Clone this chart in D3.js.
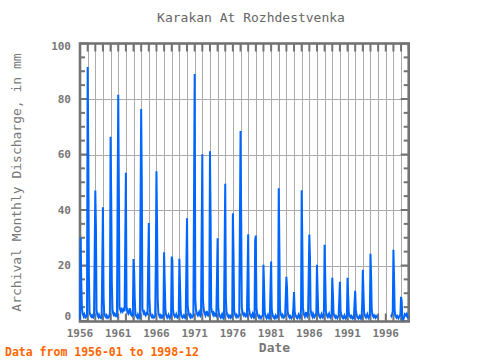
<!DOCTYPE html>
<html><head><meta charset="utf-8">
<script src="https://cdn.jsdelivr.net/npm/d3@7"></script>
<style>html,body{margin:0;padding:0;background:#fff;}svg{display:block;}</style>
</head><body>
<script>
// Monthly discharge (mm), Jan..Dec per year
const flow1950s = [
  0.5, 30, 14.5, 4.8, 3.0, 2.2, 1.6, 2.4, 1.8, 1.3, 1.6, 2.0,      // 1956
  91.5, 60.5, 16.3, 3.2, 2.4, 1.8, 1.5, 2.0, 1.4, 1.2, 1.8, 23.5,  // 1957
  47, 33.6, 4.0, 2.5, 1.8, 1.4, 2.2, 1.6, 1.2, 1.0, 1.5, 20.5,     // 1958
  41, 8.4, 3.0, 2.2, 1.6, 1.3, 2.0, 1.5, 1.1, 1.4, 1.8, 3.0        // 1959
];
const flow1960s = [
  66.4, 44, 14, 4.2, 2.8, 2.2, 2.6, 2.0, 1.8, 2.4, 2.0, 42.3,      // 1960
  81.5, 46.5, 5.0, 4.2, 3.6, 4.8, 4.0, 3.4, 3.8, 4.4, 3.5, 27.8,   // 1961
  53.4, 5.2, 4.0, 3.2, 2.6, 3.0, 4.6, 3.8, 2.4, 2.0, 1.8, 2.5,     // 1962
  22.3, 17.8, 7.9, 2.6, 2.0, 1.5, 1.2, 2.2, 1.6, 1.0, 1.3, 38.9,   // 1963
  76.4, 50.7, 4.4, 3.6, 2.8, 3.2, 2.4, 2.0, 2.6, 3.0, 2.2, 20.0,   // 1964
  35.3, 8.0, 3.2, 2.4, 1.8, 1.4, 2.0, 1.6, 1.2, 1.5, 1.8, 20.5,    // 1965
  54, 33.2, 8.0, 3.0, 2.2, 1.6, 2.0, 1.4, 1.8, 1.2, 1.5, 2.0,      // 1966
  24.8, 13.7, 4.5, 2.4, 1.8, 1.2, 1.6, 2.2, 1.5, 1.0, 1.4, 2.2,    // 1967
  23.2, 21.7, 4.2, 2.6, 2.0, 1.5, 1.8, 2.4, 1.6, 1.2, 1.5, 2.0,    // 1968
  22.4, 13.0, 3.8, 2.2, 1.6, 1.2, 1.5, 2.0, 1.4, 1.1, 1.6, 20.3    // 1969
];
const flow1970s = [
  37, 5.5, 3.6, 2.4, 1.8, 1.4, 2.2, 1.8, 1.3, 1.6, 2.0, 44.3,      // 1970
  89, 7.8, 4.2, 3.0, 2.4, 2.0, 2.6, 3.2, 2.2, 1.8, 2.4, 31.4,      // 1971
  60.1, 8.0, 4.6, 3.2, 2.6, 2.0, 2.8, 3.6, 2.4, 2.0, 2.6, 3.0,     // 1972
  61.2, 36.6, 5.0, 3.6, 2.8, 2.2, 3.0, 2.6, 2.0, 2.4, 2.0, 15.0,   // 1973
  29.8, 5.0, 3.0, 2.2, 1.6, 1.2, 1.8, 2.4, 1.5, 1.0, 1.4, 25.2,    // 1974
  49.5, 8.0, 3.4, 2.4, 1.8, 1.4, 2.0, 1.6, 1.2, 1.8, 1.5, 2.0,     // 1975
  38.8, 24.1, 3.8, 2.6, 2.0, 1.5, 2.2, 1.8, 1.4, 1.8, 2.2, 34.8,   // 1976
  68.5, 36.8, 5.0, 3.2, 2.4, 2.0, 2.6, 2.2, 1.8, 2.4, 2.0, 16.0,   // 1977
  31.3, 5.0, 3.2, 2.4, 1.8, 1.4, 2.0, 2.6, 1.6, 1.2, 1.6, 29.1,    // 1978
  30.8, 4.5, 3.0, 2.2, 1.6, 1.2, 1.8, 1.4, 1.0, 1.5, 1.8, 2.0      // 1979
];
const flow1980s = [
  20.3, 12.0, 3.2, 2.0, 1.5, 1.0, 1.6, 2.2, 1.3, 0.9, 1.2, 11.7,   // 1980
  21.4, 4.0, 2.6, 1.8, 1.3, 1.0, 1.5, 2.0, 1.2, 1.6, 1.4, 2.0,     // 1981
  47.8, 25.7, 4.2, 2.6, 2.0, 1.5, 2.2, 1.7, 1.2, 1.6, 2.0, 8.4,    // 1982
  15.9, 11.8, 3.4, 2.2, 1.6, 1.2, 1.8, 1.4, 1.0, 1.5, 1.8, 5.0,    // 1983
  10.4, 3.2, 2.4, 1.8, 1.3, 1.0, 1.6, 2.2, 1.4, 1.0, 1.6, 4.0,     // 1984
  47.1, 27.5, 5.0, 3.0, 2.2, 1.6, 2.4, 3.2, 2.0, 1.6, 2.2, 16.3,   // 1985
  31.2, 22.8, 4.2, 2.8, 2.0, 1.5, 2.6, 2.0, 1.4, 1.8, 2.2, 3.0,    // 1986
  20.3, 10.9, 3.2, 2.2, 1.6, 1.2, 1.8, 2.4, 1.5, 1.2, 1.6, 4.0,    // 1987
  27.5, 16.0, 3.6, 2.4, 1.8, 1.4, 2.0, 2.6, 1.6, 1.2, 1.8, 2.5,    // 1988
  15.6, 9.5, 3.0, 2.0, 1.5, 1.2, 1.8, 1.4, 1.0, 1.5, 1.8, 7.6      // 1989
];
const flow1990s = [
  14.1, 3.5, 2.6, 1.8, 1.3, 1.0, 1.5, 2.0, 1.2, 0.9, 1.4, 2.0,     // 1990
  15.6, 9.0, 3.0, 2.0, 1.5, 1.2, 1.8, 1.4, 1.0, 1.5, 1.2, 6.5,     // 1991
  10.9, 4.0, 2.4, 1.6, 1.2, 0.9, 1.4, 1.8, 1.1, 0.8, 1.3, 6.0,     // 1992
  18.5, 9.8, 3.2, 2.2, 1.6, 1.2, 1.8, 2.4, 1.5, 1.1, 1.6, 2.2,     // 1993
  24.2, 16.0, 4.0, 2.4, 1.8, 1.4, 2.0, 1.6, 1.2, 1.8, 1.5, 1.2,    // 1994
  null, null, null, null, null, null, null, null, null, null, null, null, // 1995
  null, null, null, null, null, null, null, null, 2.2, 1.8, 2.6, 3.5,     // 1996
  25.7, 15.5, 3.6, 2.0, 1.5, 1.2, 1.8, 1.4, 1.0, 1.6, 2.0, 2.4,    // 1997
  8.7, 7.2, 1.0, 0.5, 0.8, 1.5, 2.5, 2.3, 2.0, 2.5, 1.5, 1.0       // 1998
];
const firstYear = 1956;
const xTickYears = [1956, 1961, 1966, 1971, 1976, 1981, 1986, 1991, 1996];
const yTickValues = [0, 20, 40, 60, 80, 100];

const W = 480, H = 360;
const L = 80, R = 408.7, T = 43.5, B = 321.5;
const frameColor = "#737373", gridColor = "#ababab", textColor = "#777777";
const font = "'DejaVu Sans Mono', monospace";

const values = [].concat(flow1950s, flow1960s, flow1970s, flow1980s, flow1990s);
const data = values.map((v, i) => ({date: new Date(firstYear, i, 1), v}));

const svg = d3.select("body").append("svg").attr("width", W).attr("height", H);

const x = d3.scaleTime().domain([new Date(firstYear, 0, 1), new Date(1999, 0, 1)]).range([L, R]);
const y = d3.scaleLinear().domain([0, 100]).range([321, T]);

const allYears = d3.timeYear.range(new Date(firstYear, 0, 1), new Date(1999, 0, 2));

// gridlines
svg.append("g").selectAll("line.vg").data(allYears.slice(1, -1)).join("line")
  .attr("x1", d => Math.round(x(d)) + 0.5).attr("x2", d => Math.round(x(d)) + 0.5)
  .attr("y1", T).attr("y2", B).attr("stroke", gridColor).attr("stroke-width", 1);
svg.append("g").selectAll("line.hg").data([20, 40, 60, 80]).join("line")
  .attr("x1", L).attr("x2", R)
  .attr("y1", d => Math.round(y(d)) + 0.5).attr("y2", d => Math.round(y(d)) + 0.5)
  .attr("stroke", gridColor).attr("stroke-width", 1);

// frame
svg.append("rect").attr("x", L).attr("y", T).attr("width", R - L).attr("height", B - T)
  .attr("fill", "none").attr("stroke", frameColor).attr("stroke-width", 2.6);

// x ticks top and bottom
const xt = svg.append("g");
allYears.forEach(d => {
  const xx = x(d);
  xt.append("line").attr("x1", xx).attr("x2", xx).attr("y1", T).attr("y2", T + 8)
    .attr("stroke", frameColor).attr("stroke-width", 2);
  xt.append("line").attr("x1", xx).attr("x2", xx).attr("y1", B).attr("y2", B - 8)
    .attr("stroke", frameColor).attr("stroke-width", 2);
});

// y ticks left and right (minor every 5)
const yt = svg.append("g");
d3.range(0, 101, 5).forEach(v => {
  const major = v % 20 === 0;
  const len = major ? 8 : 5;
  const yy = y(v);
  yt.append("line").attr("x1", L).attr("x2", L + len).attr("y1", yy).attr("y2", yy)
    .attr("stroke", frameColor).attr("stroke-width", 2);
  yt.append("line").attr("x1", R).attr("x2", R - len).attr("y1", yy).attr("y2", yy)
    .attr("stroke", frameColor).attr("stroke-width", 2);
});

// data line (drawn over the frame, as in the reference)
const line = d3.line().defined(d => d.v != null).x(d => x(d.date)).y(d => y(d.v));
svg.append("path").datum(data).attr("d", line)
  .attr("fill", "none").attr("stroke", "#0066ff").attr("stroke-width", 2)
  .attr("stroke-linejoin", "miter");

// x tick labels
svg.append("g").selectAll("text").data(xTickYears).join("text")
  .attr("x", d => x(new Date(d, 0, 1))).attr("y", 337)
  .attr("text-anchor", "middle").attr("font-family", font).attr("font-size", 11)
  .attr("font-weight", "bold").attr("fill", textColor).text(d => d);

// y tick labels
svg.append("g").selectAll("text").data(yTickValues).join("text")
  .attr("x", 71).attr("y", d => y(d) + (d === 0 ? -5 : d === 100 ? 3 : 0))
  .attr("dy", "0.35em").attr("text-anchor", "end").attr("font-family", font)
  .attr("font-size", 11).attr("font-weight", "bold").attr("fill", textColor).text(d => d);

// title
svg.append("text").attr("x", 251).attr("y", 22).attr("text-anchor", "middle")
  .attr("font-family", font).attr("font-size", 13).attr("fill", "#666")
  .text("Karakan At Rozhdestvenka");

// axis titles
svg.append("text").attr("x", 274.5).attr("y", 352).attr("text-anchor", "middle")
  .attr("font-family", font).attr("font-size", 13).attr("font-weight", "bold").attr("fill", textColor)
  .text("Date");
svg.append("text").attr("transform", "translate(21," + ((T + B) / 2) + ") rotate(-90)")
  .attr("text-anchor", "middle").attr("font-family", font).attr("font-size", 13)
  .attr("fill", textColor).text("Archival Monthly Discharge, in mm");

// footnote
svg.append("text").attr("x", 5).attr("y", 356).attr("font-family", font)
  .attr("font-size", 11.5).attr("font-weight", "bold").attr("fill", "#ff6600")
  .text("Data from 1956-01 to 1998-12");
</script>
</body></html>
